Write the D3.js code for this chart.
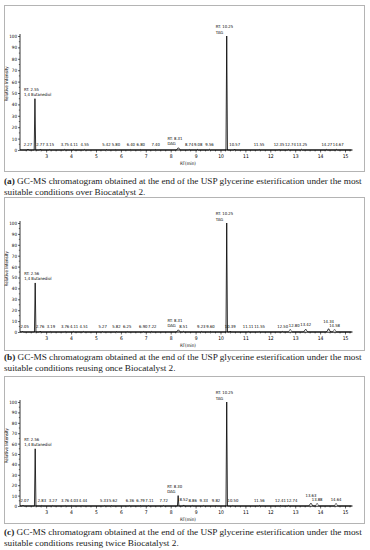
<!DOCTYPE html>
<html>
<head>
<meta charset="utf-8">
<script src="https://cdn.jsdelivr.net/npm/d3@7"></script>
<style>
  body { margin: 0; background: #fff; }
  svg { display: block; }
  .narrow { font-family: 'Liberation Sans Narrow', 'DejaVu Sans Condensed', 'Arial Narrow', sans-serif; font-stretch: condensed; }
</style>
</head>
<body>
<svg id="viz" width="370" height="550"></svg>
<script>
// axis ticks
var xTicks = [3, 4, 5, 6, 7, 8, 9, 10, 11, 12, 13, 14, 15];
var yTicks = [0, 10, 20, 30, 40, 50, 60, 70, 80, 90, 100];

// (a) fresh biocatalyst
var keyRtA = [2.55, 8.31, 10.25];
var keyHA = [45, 2, 100];
var rtA = [2.27, 2.77, 3.15, 3.75, 4.11, 4.55, 5.42, 5.80, 6.40, 6.80, 7.40, 8.74, 9.08, 9.56, 10.57, 11.55, 12.35, 12.74, 13.25, 14.27, 14.67];
var hA = [0.8, 0.8, 0.5, 0.6, 0.5, 0.5, 0.4, 0.4, 0.4, 0.4, 0.4, 0.5, 0.5, 0.6, 0.8, 0.5, 0.5, 0.5, 0.6, 0.6, 0.6];

// (b) reused once
var keyRtB = [2.56, 8.31, 10.25];
var keyHB = [45, 2, 100];
var rtB = [2.05, 2.76, 3.19, 3.76, 4.11, 4.51, 5.27, 5.82, 6.25, 6.90, 7.22, 8.51, 9.23, 9.60, 10.39, 11.11, 11.55, 12.50, 12.80, 13.42, 14.34, 14.58];
var hB = [0.8, 0.8, 0.5, 0.5, 0.5, 0.5, 0.4, 0.4, 0.4, 0.4, 0.5, 0.6, 0.5, 0.5, 0.8, 0.5, 0.5, 0.5, 1.5, 2.5, 3, 1.2];

// (c) reused twice
var keyRtC = [2.56, 8.30, 10.25];
var keyHC = [55, 10, 100];
var rtC = [2.07, 2.83, 3.27, 3.76, 4.03, 4.44, 5.33, 5.62, 6.36, 6.79, 7.11, 7.72, 8.52, 8.86, 9.33, 9.82, 10.50, 11.56, 12.41, 12.74, 13.63, 13.88, 14.64];
var hC = [0.8, 0.6, 0.5, 0.5, 0.5, 0.5, 0.4, 0.4, 0.4, 0.4, 0.4, 0.5, 1, 0.6, 0.5, 0.6, 0.6, 0.5, 0.5, 0.6, 2.5, 1.2, 1.5];

var compounds = ['1,4 Butanediol', 'DAG', 'TAG'];

var captionHead = 'GC-MS chromatogram obtained at the end of the USP glycerine esterification under the most';
var captionTail = [
  'suitable conditions over Biocatalyst 2.',
  'suitable conditions reusing once Biocatalyst 2.',
  'suitable conditions reusing twice Biocatalyst 2.'
];

var svg = d3.select('#viz');

var panels = [
  { tag: '(a)', keyRt: keyRtA, keyH: keyHA, rt: rtA, h: hA, top: 5, bottom: 171, y100: 36, y0: 150, cap: 184 },
  { tag: '(b)', keyRt: keyRtB, keyH: keyHB, rt: rtB, h: hB, top: 197, bottom: 350, y100: 223, y0: 332, cap: 360 },
  { tag: '(c)', keyRt: keyRtC, keyH: keyHC, rt: rtC, h: hC, top: 376, bottom: 523, y100: 402, y0: 506, cap: 535 }
];

var x = d3.scaleLinear().domain([1.95, 15.3]).range([20, 352.5]);

panels.forEach(function (p, i) {
  drawPanel(p, i);
});

function drawPanel(p, i) {
  var g = svg.append('g');
  var y = d3.scaleLinear().domain([0, 100]).range([p.y0, p.y100]);

  g.append('rect')
    .attr('x', 4.5)
    .attr('y', p.top + 0.5)
    .attr('width', 360)
    .attr('height', p.bottom - p.top)
    .attr('fill', 'none')
    .attr('stroke', '#b4b4b4')
    .attr('stroke-width', 1);

  // x axis with minor ticks
  var xAxis = d3.axisBottom(x).tickValues(xTicks).tickSize(2.5).tickPadding(2).tickFormat(d3.format('d'));
  var gx = g.append('g').attr('transform', 'translate(0,' + p.y0 + ')').call(xAxis);
  gx.select('.domain').attr('d', 'M' + x.range()[0] + ',0H' + x.range()[1]).attr('stroke-width', 1);
  gx.selectAll('text').attr('class', 'narrow').style('font-size', '5px');
  gx.selectAll('.tick line').attr('stroke-width', 0.6);
  var minor = d3.range(2, 15.3, 0.2).filter(function (d) { return Math.abs(d - Math.round(d)) > 0.01; });
  gx.selectAll('.minor')
    .data(minor)
    .join('line')
    .attr('class', 'minor')
    .attr('x1', function (d) { return x(d); })
    .attr('x2', function (d) { return x(d); })
    .attr('y1', 0)
    .attr('y2', 1.5)
    .attr('stroke', 'black')
    .attr('stroke-width', 0.5);

  // y axis
  var yAxis = d3.axisLeft(y).tickValues(yTicks).tickSize(2).tickPadding(1);
  var gy = g.append('g').attr('transform', 'translate(' + x.range()[0] + ',0)').call(yAxis);
  gy.select('.domain').attr('d', 'M0,' + p.y0 + 'V' + (p.y100 - 2)).attr('stroke-width', 0.8);
  gy.selectAll('text').attr('class', 'narrow').style('font-size', '4.5px');
  gy.selectAll('.tick line').attr('stroke-width', 0.6);
  gy.selectAll('.ymin')
    .data(d3.range(5, 100, 10))
    .join('line')
    .attr('class', 'ymin')
    .attr('x1', 0)
    .attr('x2', -1.2)
    .attr('y1', function (d) { return y(d); })
    .attr('y2', function (d) { return y(d); })
    .attr('stroke', 'black')
    .attr('stroke-width', 0.5);

  g.append('text')
    .attr('class', 'narrow')
    .attr('transform', 'translate(8,' + y(58) + ') rotate(-90)')
    .attr('text-anchor', 'middle')
    .style('font-size', '4.5px')
    .text('Relative Intensity');

  g.append('text')
    .attr('class', 'narrow')
    .attr('x', 188)
    .attr('y', p.y0 + 15)
    .attr('text-anchor', 'middle')
    .style('font-size', '4.5px')
    .text('RT(min)');

  // trace
  var peaks = [];
  p.keyRt.forEach(function (d, j) { peaks.push({ rt: d, h: p.keyH[j], name: compounds[j] }); });
  p.rt.forEach(function (d, j) { peaks.push({ rt: d, h: p.h[j] }); });
  peaks.sort(function (a, b) { return a.rt - b.rt; });

  var pts = [[x.domain()[0], 0]];
  peaks.forEach(function (pk) {
    var hw = pk.h > 1 && pk.h < 5 ? 0.08 : 0.03;
    pts.push([pk.rt - hw, 0], [pk.rt, pk.h], [pk.rt + hw, 0]);
  });
  pts.push([x.domain()[1] - 0.05, 0]);

  var line = d3.line()
    .x(function (d) { return x(d[0]); })
    .y(function (d) { return y(d[1]); });

  g.append('path')
    .attr('d', line(pts))
    .attr('fill', 'none')
    .attr('stroke', 'black')
    .attr('stroke-width', 0.8);

  // small hump markers
  g.selectAll('.mark')
    .data(peaks.filter(function (d) { return d.h > 1 && d.h < 5 && !d.name; }))
    .join('path')
    .attr('class', 'mark')
    .attr('d', d3.symbol().type(d3.symbolTriangle).size(5))
    .attr('transform', function (d) { return 'translate(' + x(d.rt) + ',' + (y(0) - 1) + ')'; })
    .attr('fill', 'white')
    .attr('stroke', 'black')
    .attr('stroke-width', 0.4);

  // peak labels
  var lab = g.append('g')
    .attr('class', 'narrow')
    .style('font-size', '4.2px');

  var minorPeaks = peaks.filter(function (d) { return !d.name; });
  var mlab = lab.selectAll('.minorlab')
    .data(minorPeaks)
    .join('text')
    .attr('class', 'minorlab')
    .attr('text-anchor', 'middle')
    .text(function (d) { return d.rt.toFixed(2); });

  // place labels over their peaks, nudging right or raising when neighbours collide
  var prev = null;
  mlab.each(function (d) {
    d.w = this.getComputedTextLength();
    d.lx = Math.max(x(d.rt), 20 + d.w / 2 + 0.5);
    d.ly = y(d.h) - 3.5;
    if (prev && Math.abs(d.ly - prev.ly) < 4.5) {
      var gap = (prev.lx + prev.w / 2 + 0.6) - (d.lx - d.w / 2);
      if (gap > 0 && gap <= 4.5) {
        d.lx += gap;
      } else if (gap > 4.5) {
        if (prev.h >= d.h) prev.ly = d.ly - 4.5;
        else d.ly = prev.ly - 4.5;
      }
    }
    prev = d;
  });
  mlab.attr('x', function (d) { return d.lx; })
    .attr('y', function (d) { return d.ly; });

  var named = peaks.filter(function (d) { return d.name; });
  lab.selectAll('.rtlab')
    .data(named)
    .join('text')
    .attr('class', 'rtlab')
    .attr('x', function (d) { return x(d.rt) - 11; })
    .attr('y', function (d) { return y(d.h) - 8; })
    .text(function (d) { return 'RT: ' + d.rt.toFixed(2); });
  lab.selectAll('.namelab')
    .data(named)
    .join('text')
    .attr('class', 'namelab')
    .attr('x', function (d) { return x(d.rt) - 11; })
    .attr('y', function (d) { return y(d.h) - 2.5; })
    .text(function (d) { return d.name; });

  // caption
  var cap = svg.append('g')
    .style('font-family', 'Liberation Serif, Times New Roman, serif')
    .style('font-size', '9px')
    .attr('fill', '#222');
  var t1 = cap.append('text').attr('x', 4).attr('y', p.cap);
  t1.append('tspan').style('font-weight', 'bold').text(p.tag);
  t1.append('tspan').text(' ' + captionHead);
  var w = t1.node().getComputedTextLength();
  var fs = 9 * 358 / w;
  cap.style('font-size', fs + 'px');
  cap.append('text').attr('x', 4).attr('y', p.cap + 11).text(captionTail[i]);
}
</script>
</body>
</html>
